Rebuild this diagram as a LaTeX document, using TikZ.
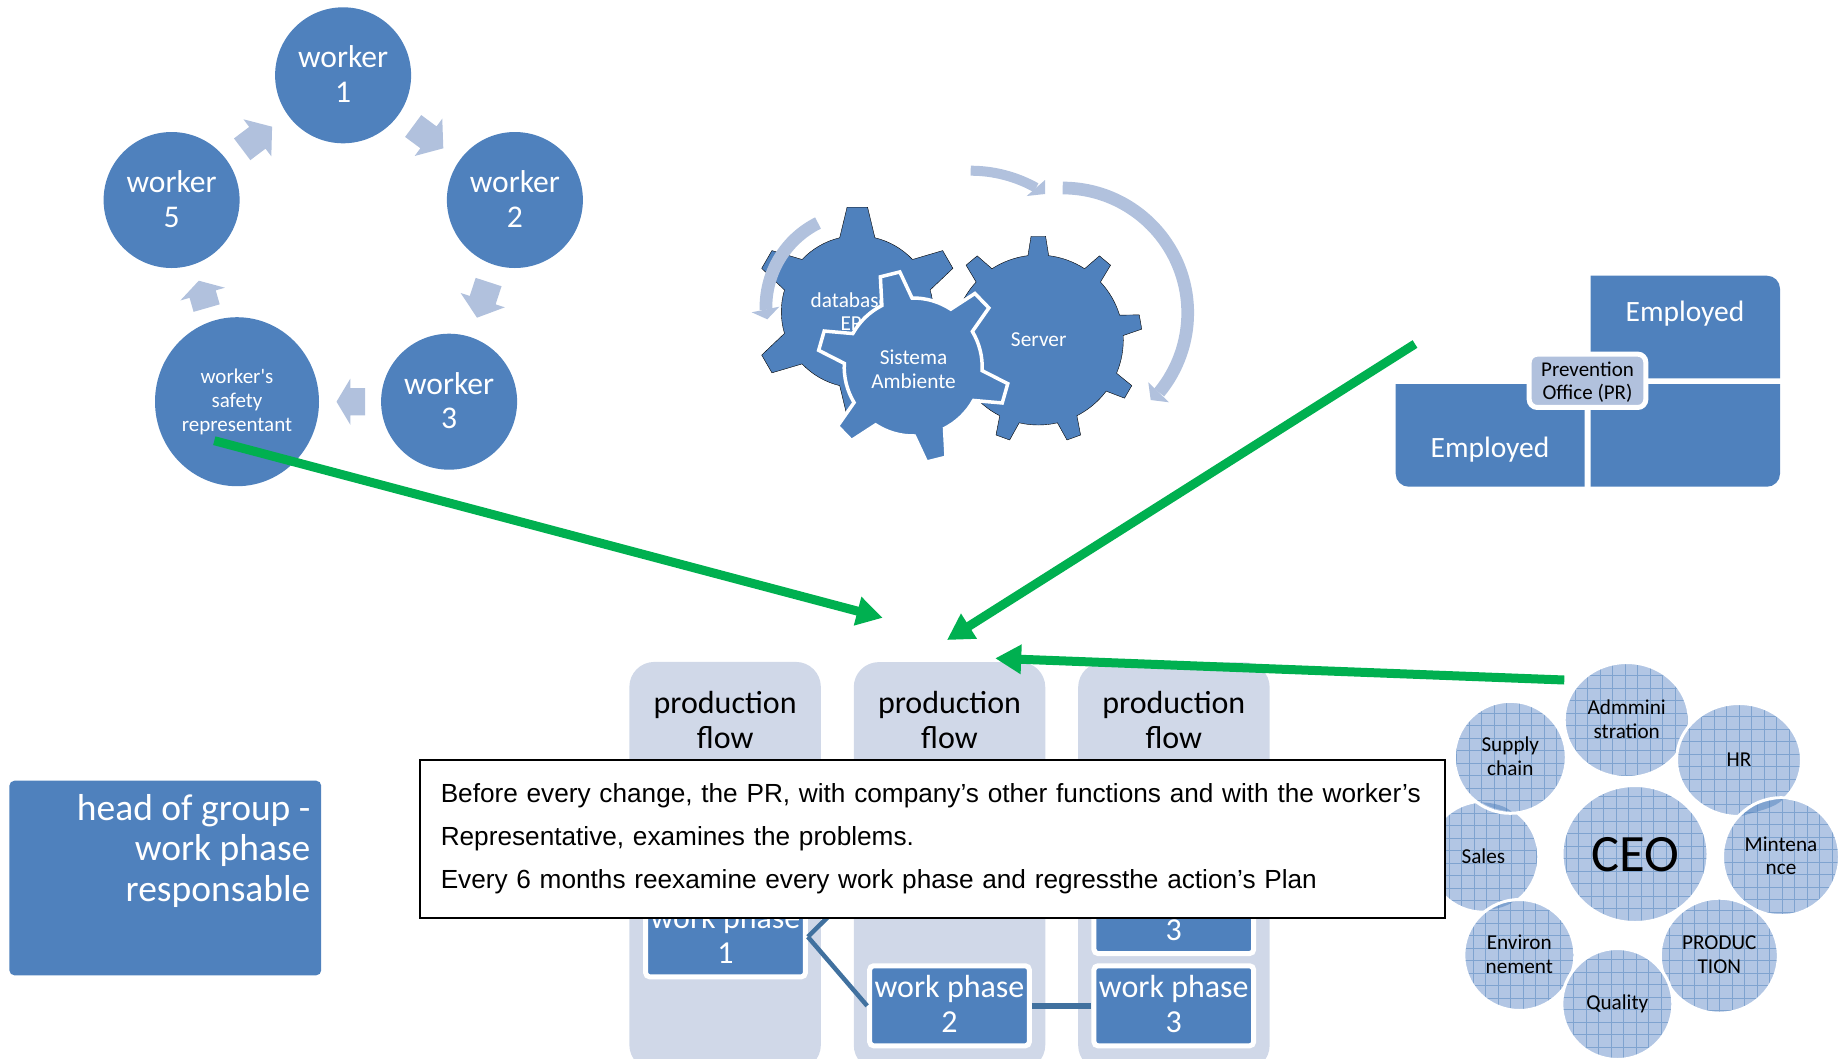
\documentclass[tikz,border=0pt]{standalone}
\usepackage{fontspec}
\setmainfont{Carlito}
\newfontfamily\notefont{Liberation Sans}
\usepackage{tikz}
\usetikzlibrary{arrows.meta,shapes.geometric,shapes.arrows,positioning}
\definecolor{mainblue}{HTML}{4F81BD}
\definecolor{paleblue}{HTML}{B1C1DD}
\definecolor{flowblue}{HTML}{D0D8E8}
\definecolor{deptblue}{HTML}{B2C6E4}
\definecolor{deptline}{HTML}{7FA3CF}
\definecolor{linkblue}{HTML}{41719F}
\definecolor{greenline}{HTML}{00B050}
\newcommand{\textsz}[2]{\fontsize{#1}{#2}\selectfont}
\tikzstyle{workernode}=[circle, fill=mainblue, text=white, align=center, inner sep=0pt,
                    minimum size=136pt, text depth=2.4pt, font=\textsz{31.6}{34.5}]
\tikzstyle{blockarrow}=[single arrow, fill=paleblue, inner xsep=0pt, inner ysep=13.4pt,
                    outer sep=0pt, anchor=tip, minimum width=46pt, single arrow head extend=9.6pt]
\tikzstyle{longarrow}=[blockarrow, minimum height=37.5pt, single arrow tip angle=103]
\tikzstyle{shortarrow}=[blockarrow, minimum height=28.5pt, single arrow tip angle=118]
\tikzstyle{bandarrow}=[draw=paleblue, line width=12.7pt]
\tikzstyle{gearlabel}=[text=white, align=center, font=\textsz{21.3}{23.7}]
\tikzstyle{quad}=[fill=mainblue]
\tikzstyle{quadlabel}=[text=white, font=\textsz{29.5}{34}]
\tikzstyle{flowcol}=[fill=flowblue, rounded corners=25pt, minimum width=191.5pt,
                    minimum height=408pt, anchor=north, inner sep=0pt]
\tikzstyle{flowlabel}=[align=center, text=black, font=\textsz{32}{34.4}]
\tikzstyle{wpnode}=[fill=mainblue, draw=white, line width=5pt, rounded corners=4pt,
                    minimum width=159.7pt, minimum height=80pt, inner sep=0pt,
                    text=white, align=center, text depth=3.6pt, font=\textsz{32}{35}]
\tikzstyle{link}=[draw=linkblue, line width=4.5pt]
\tikzstyle{dept}=[ellipse, fill=deptblue, draw=white, line width=3pt, inner sep=0pt,
                    align=center, text=black, text depth=2pt, font=\textsz{21.2}{23.5},
                    path picture={\draw[draw=deptline, line width=.7pt, step=12.5pt]
                    (path picture bounding box.south west) grid
                    (path picture bounding box.north east);}]
\tikzstyle{overlap}=[fill=mainblue, opacity=.5]
\tikzstyle{bigarrow}=[-{Triangle[length=26pt,width=28pt]}, draw=greenline,
                    line width=9pt]
\newcommand{\cogwheel}[8]{\begin{scope}[shift={(#2)}]
    \filldraw[#1] (#4+360/#3-#7:#5) \foreach \k [evaluate=\k as \t using #4+\k*360/#3]
        in {1,...,#3} { -- (\t-#7:#5) -- (\t-#8:#6) -- (\t+#8:#6) -- (\t+#7:#5)
        arc[start angle=\t+#7, end angle=\t+360/#3-#7, radius=#5]} -- cycle;
    \end{scope}}
\begin{document}
\begin{tikzpicture}[x=1pt, y=-1pt]
    \useasboundingbox (0,0) rectangle (1838,1058);
    \foreach \n/\p in {1/{343.1,75.3}, 2/{514.9,200}, 3/{449.1,401.7}, 5/{171.6,200}}
        \node (worker\n) [workernode] at (\p) {worker\\\n};
    \node (rep) [workernode, ellipse, minimum width=164pt, minimum height=169pt,
        text depth=3pt, font=\textsz{21}{23.6}] at (237,401.7)
        {worker\textquotesingle s\\safety\\representant};
    \foreach \n/\p/\a in {a/{443.3,148.3}/-36.5, b/{477,317.7}/-108, e/{272.1,126.7}/37}
        \node (arrow\n) [longarrow, rotate=\a] at (\p) {};
    \foreach \n/\p/\a in {c/{336.5,401.7}/180, d/{198.8,280.7}/106}
        \node (arrow\n) [shortarrow, rotate=\a] at (\p) {};
    \cogwheel{fill=mainblue}{857.3,311.7}{6}{-90}{76}{105}{13.4}{5.6}
    \cogwheel{fill=mainblue}{1038.3,340}{9}{-90}{85}{104}{7}{4}
    \node (gearone) [gearlabel] at (850,311.7) {database\\\hspace{14pt}ERP};
    \node (geartwo) [gearlabel] at (1038.7,340) {Server};
    \cogwheel{fill=mainblue, draw=white, line width=3.5pt}{913.2,367}{6}{-104}{69}{96}{13}{6}
    \node (gearthree) [gearlabel] at (913.5,369.5) {Sistema\\Ambiente};
    \draw[bandarrow] (1062.7,188) arc[start angle=-90, end angle=39.5, radius=125];
    \fill[paleblue] (1148.3,382.3) -- (1150.7,400) -- (1169,402.3) -- cycle;
    \draw[bandarrow, line width=10pt] (970.7,170.7) arc[start angle=-90, end angle=-60.8, radius=134];
    \fill[paleblue] (1045,180) -- (1045,194) -- (1026.7,196) -- cycle;
    \draw[bandarrow] (818,223) arc[start angle=-116.5, end angle=-181.6, radius=94];
    \fill[paleblue] (751.7,312.3) -- (767.3,319.3) -- (779.3,306.7) -- cycle;
    \path[quad] (1590.7,275.7) -- (1767,275.7) arc[start angle=-90, end angle=0, radius=13]
        -- (1780,378.3) -- (1590.7,378.3) -- cycle;
    \path[quad] (1590.7,384) -- (1780,384) -- (1780,473.7)
        arc[start angle=0, end angle=90, radius=13] -- (1590.7,486.7) -- cycle;
    \path[quad] (1395.7,384) -- (1584.7,384) -- (1584.7,486.7) -- (1408.7,486.7)
        arc[start angle=90, end angle=180, radius=13] -- cycle;
    \node (emptop) [quadlabel] at (1685,314) {Employed};
    \node (empleft) [quadlabel] at (1490,449.6) {Employed};
    \node (office) [fill=paleblue, draw=white, line width=5pt, rounded corners=8pt,
        minimum width=116.6pt, minimum height=53.3pt, inner sep=0pt, align=center,
        text=black, text depth=0pt, font=\textsz{21}{23.7}] at (1587.5,380.8)
        {Prevention\\Office (PR)};
    \node (hob) [fill=mainblue, rounded corners=5pt, minimum width=311.8pt,
        minimum height=194.6pt] at (165.3,878) {};
    \node (hobtext) [anchor=east, align=right, text=white, inner sep=0pt,
        font=\textsz{37.5}{40.5}] at (310.6,850.5) {head of group -\\work phase\\responsable};
    \node (colone) [flowcol] at (725.1,661.7) {};
    \node (coltwo) [flowcol, right=224.4pt of colone.center, anchor=north, yshift=204pt] {};
    \node (colthree) [flowcol, right=224.4pt of coltwo.center, anchor=north, yshift=204pt] {};
    \foreach \c/\x in {one/725.1, two/949.5, three/1173.8}
        \node (flow\c) [flowlabel] at (\x,720) {production\\flow};
    \node (wpone) [wpnode] at (725.5,936.8) {work phase\\1};
    \node (wptwo) [wpnode] at (949.5,1005.8) {work phase\\2};
    \node (wpthree) [wpnode] at (1173.8,1005.8) {work phase\\3};
    \node (wpup) [wpnode] at (1173.8,913.5) {work phase\\3};
    \coordinate (wpfree) at (838,907);
    \draw[link] (wpone.east) -- (wptwo.west);
    \draw[link] (wpone.east) -- (wpfree);
    \draw[link, line width=6.5pt] (wptwo.east) -- (wpthree.west);
    \node (sales) [dept, minimum width=111pt, minimum height=111pt] at (1483.3,856.7) {Sales};
    \node (supply) [dept, minimum width=112pt, minimum height=112pt] at (1510.3,757.3) {Supply\\chain};
    \node (envi) [dept, minimum width=111pt, minimum height=111pt] at (1519.3,955) {Environ\\nement};
    \node (admin) [dept, minimum width=125pt, minimum height=115pt] at (1626.7,720) {Admmini\\stration};
    \node (hr) [dept, minimum width=125pt, minimum height=113pt, text depth=0pt] at (1739,760) {HR};
    \node (maint) [dept, minimum width=117pt, minimum height=118pt] at (1781,856.7) {Mintena\\nce};
    \node (prod) [dept, minimum width=118pt, minimum height=115pt] at (1719.3,955.7) {PRODUC\\TION};
    \node (qual) [dept, minimum width=111pt, minimum height=111pt, text depth=4pt] at (1617.3,1004) {Quality};
    \node (ceo) [dept, minimum width=146pt, minimum height=137pt, text depth=0pt, font=\textsz{52.5}{56}] at (1635,854) {CEO};
    \fill[overlap] (1741.7,816) .. controls (1755,802) and (1770,800) .. (1783.3,799)
        .. controls (1775,808) and (1758,811) .. cycle;
    \fill[overlap] (1481.7,802.3) .. controls (1495,803) and (1505,806) .. (1511.7,811.7)
        .. controls (1503,811) and (1490,808) .. cycle;
    \fill[overlap] (1491.7,909.3) .. controls (1500,904) and (1506,902) .. (1513.3,901.7)
        .. controls (1507,906) and (1500,908) .. cycle;
    \coordinate (tipleft) at (882.7,617.8);
    \coordinate (tipmid) at (947,640);
    \coordinate (tipright) at (995.2,658.3);
    \coordinate (startleft) at (214.3,440.7);
    \coordinate (startmid) at (1415,344);
    \coordinate (startright) at (1564.3,680);
    \draw[bigarrow] (startleft) -- (tipleft);
    \draw[bigarrow] (startmid) -- (tipmid);
    \draw[bigarrow] (startright) -- (tipright);
    \node (note) [fill=white, draw=black, line width=2pt, minimum width=1025.5pt,
        minimum height=158.5pt, text width=983pt, inner sep=0pt, align=left,
        font=\notefont\textsz{26.2}{43.4}] at (932.25,838.75)
        {Before every change, the PR, with company’s other functions and with the worker’s\\
        Representative, examines the problems.\\
        Every 6 months reexamine every work phase and regressthe action’s Plan};
\end{tikzpicture}
\end{document}
